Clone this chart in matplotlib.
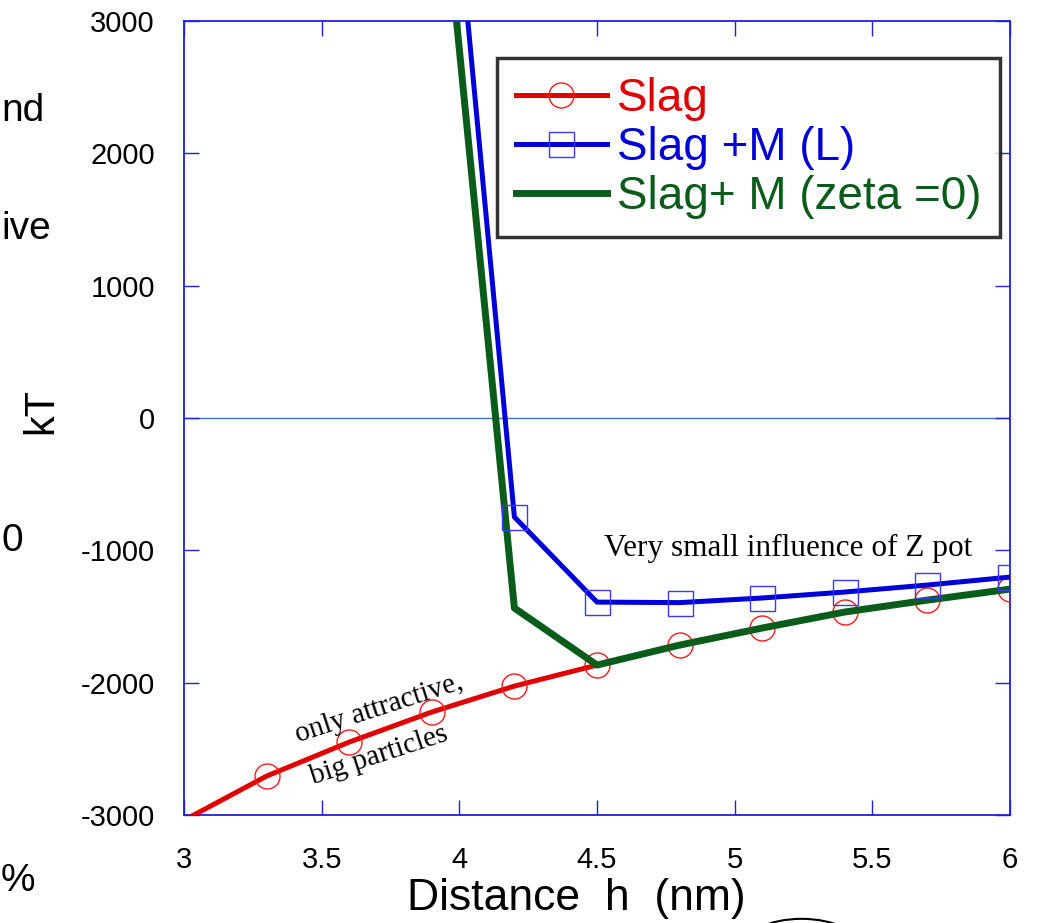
import numpy as np
import matplotlib.pyplot as plt
from matplotlib.patches import Ellipse

# distance h (nm)
h = [3.0, 3.3, 3.6, 3.9, 4.2, 4.5, 4.8, 5.1, 5.4, 5.7, 6.0]
slag = [-3040, -2706, -2449, -2222, -2026, -1867, -1716, -1587, -1466, -1376, -1293]
slag_m_L = [None, None, None, 5900, -748, -1391, -1395, -1360, -1315, -1262, -1202]
slag_m_z0 = [None, None, None, 4900, -1436, -1867, -1716, -1587, -1466, -1376, -1293]

xticks = [3, 3.5, 4, 4.5, 5, 5.5, 6]
xticklabels = ['3', '3.5', '4', '4.5', '5', '5.5', '6']
yticks = [-3000, -2000, -1000, 0, 1000, 2000, 3000]

plt.rcParams['font.family'] = ['Liberation Sans', 'DejaVu Sans']
plt.rcParams['axes.unicode_minus'] = False

fig = plt.figure(figsize=(10.37, 9.23), dpi=100)
ax = fig.add_axes([0.1774, 0.117, 0.7966, 0.8602])

def clean(xs, ys):
    pts = [(x, y) for x, y in zip(xs, ys) if y is not None]
    return [p[0] for p in pts], [p[1] for p in pts]

ax.axhline(0, color='#3c6ec8', lw=1, zorder=1)

x1, y1 = clean(h, slag)
ax.plot(x1, y1, color='#e00000', lw=3.6, marker='o', markersize=18,
        markerfacecolor='none', markeredgecolor='#ff1a1a', markeredgewidth=1,
        markevery=list(range(1, len(x1))), label='Slag', zorder=3)
x3, y3 = clean(h, slag_m_z0)
ax.plot(x3, y3, color='#0a5c1a', lw=5, label='Slag+ M (zeta =0)', zorder=4)
x2, y2 = clean(h, slag_m_L)
ax.plot(x2, y2, color='#0000d8', lw=3.6, marker='s', markersize=18,
        markerfacecolor='none', markeredgecolor='#3a3af0', markeredgewidth=1,
        markevery=list(range(1, len(x2))), label='Slag +M (L)', zorder=5)

ax.set_xlim(3, 6)
ax.set_ylim(-3000, 3000)
ax.set_xticks(xticks)
ax.set_xticklabels(xticklabels)
ax.set_yticks(yticks)
for s in ax.spines.values():
    s.set_color('#2020e0')
    s.set_linewidth(1.3)
ax.tick_params(direction='in', length=11, width=1, color='#2020e0',
               top=True, right=True, labelsize=21)
ax.tick_params(axis='x', pad=22)
ax.tick_params(axis='y', pad=21)

ax.set_xlabel('Distance  h  (nm)', fontsize=32)
ax.xaxis.set_label_coords(576 / 1037, 1 - 910 / 923, transform=fig.transFigure)
ax.xaxis.label.set_va('baseline')
fig.text(0.04, 0.555, 'kT', fontsize=30, rotation=90, ha='center', va='center')

handles, labels = ax.get_legend_handles_labels()
order = [0, 2, 1]
leg = ax.legend([handles[i] for i in order], [labels[i] for i in order],
                loc='upper right', bbox_to_anchor=(0.988, 0.953), fontsize=33,
                frameon=True, fancybox=False, handlelength=2.0, handletextpad=0.22,
                borderpad=0.4, labelspacing=0.11, borderaxespad=0)
leg.get_frame().set_edgecolor('black')
leg.get_frame().set_linewidth(2.5)
for txt, c in zip(leg.get_texts(), ['#e00000', '#0000d8', '#0a5c1a']):
    txt.set_color(c)

serif = ['Liberation Serif', 'DejaVu Serif']
ax.text(3.414, -2449, 'only attractive,', fontsize=21, family=serif, rotation=18,
        rotation_mode='anchor', ha='left', va='baseline')
ax.text(3.4685, -2766, 'big particles', fontsize=21, family=serif, rotation=18,
        rotation_mode='anchor', ha='left', va='baseline')
ax.text(5.194, -983, 'Very small influence of Z pot', fontsize=22.5,
        family=serif, ha='center', va='center')

# fragments of the slide around the cropped chart
fig.text(0.001, 0.88, 'nd', fontsize=28, ha='left', va='center')
fig.text(0.001, 0.752, 'ive', fontsize=28, ha='left', va='center')
fig.text(0.001, 0.414, '0', fontsize=28, ha='left', va='center')
fig.text(0.001, 0.045, '%', fontsize=28, ha='left', va='center')
fig.patches.append(Ellipse((0.773, -0.028), 0.116, 0.065, transform=fig.transFigure,
                           fill=False, edgecolor='black', lw=1.5))

fig.savefig('out.png', dpi=100)
